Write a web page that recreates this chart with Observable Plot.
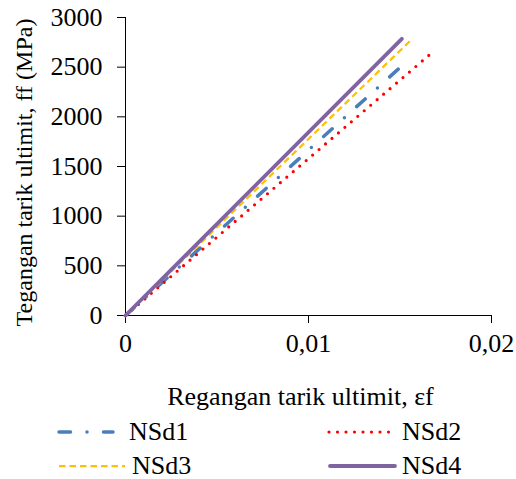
<!DOCTYPE html>
<html>
<head>
<meta charset="utf-8">
<script src="https://cdn.jsdelivr.net/npm/d3@7"></script>
<script src="https://cdn.jsdelivr.net/npm/@observablehq/plot@0.6"></script>
<style>
  html, body { margin: 0; padding: 0; background: #fff; }
  #wrap { width: 516px; font-family: "Liberation Serif", "Times New Roman", serif; }
  #legend { position: relative; width: 516px; height: 69px; font-size: 26px; color: #000; }
  .item { position: absolute; display: flex; align-items: center; height: 30px; }
  .item svg { display: block; }
</style>
</head>
<body>
<div id="wrap"></div>
<script>
// ---- data ----
const seriesNames = ["NSd1", "NSd2", "NSd3", "NSd4"];
const strainNSd1 = [0, 0.0155];
const stressNSd1 = [0, 2580];
const strainNSd2 = [0, 0.0169];
const stressNSd2 = [0, 2670];
const strainNSd3 = [0, 0.0157];
const stressNSd3 = [0, 2790];
const strainNSd4 = [0, 0.0151];
const stressNSd4 = [0, 2785];
const xTicks = [0, 0.01, 0.02];
const xTickLabels = ["0", "0,01", "0,02"];
const yTicks = [0, 500, 1000, 1500, 2000, 2500, 3000];
const yTickLabels = ["0", "500", "1000", "1500", "2000", "2500", "3000"];
const xLabel = "Regangan tarik ultimit, εf";
const yLabel = "Tegangan tarik ultimit, ff (MPa)";

// ---- styles ----
const styles = {
  NSd1: {stroke: "#4a7ebb", strokeWidth: 3.5, strokeDasharray: "11.5,16.5,0,16.5", strokeLinecap: "round"},
  NSd2: {stroke: "#ff0000", strokeWidth: 3.2, strokeDasharray: "0,8.5", strokeLinecap: "round"},
  NSd3: {stroke: "#ffc000", strokeWidth: 2.25, strokeDasharray: "6.5,4", strokeLinecap: "butt"},
  NSd4: {stroke: "#8064a2", strokeWidth: 3.8, strokeDasharray: null, strokeLinecap: "round"}
};

const seriesData = {
  NSd1: strainNSd1.map((x, i) => ({x, y: stressNSd1[i]})),
  NSd2: strainNSd2.map((x, i) => ({x, y: stressNSd2[i]})),
  NSd3: strainNSd3.map((x, i) => ({x, y: stressNSd3[i]})),
  NSd4: strainNSd4.map((x, i) => ({x, y: stressNSd4[i]}))
};

const lineMarks = seriesNames.map(name => Plot.line(seriesData[name], {
  x: "x", y: "y",
  stroke: styles[name].stroke,
  strokeWidth: styles[name].strokeWidth,
  strokeDasharray: styles[name].strokeDasharray,
  strokeLinecap: styles[name].strokeLinecap
}));

const chart = Plot.plot({
  width: 516,
  height: 410,
  marginLeft: 125,
  marginRight: 25,
  marginTop: 17,
  marginBottom: 95,
  style: {fontFamily: "'Liberation Serif', 'Times New Roman', serif", fontSize: "26px", color: "#000", background: "#fff"},
  x: {domain: [0, 0.02]},
  y: {domain: [0, 3000]},
  marks: [
    Plot.axisX({ticks: xTicks, tickFormat: d => xTickLabels[xTicks.indexOf(d)], tickSize: 8, tickPadding: 10, fontSize: 26, label: null, stroke: "#000"}),
    Plot.axisY({ticks: yTicks, tickFormat: d => yTickLabels[yTicks.indexOf(d)], tickSize: 8, tickPadding: 15, fontSize: 26, label: null, stroke: "#000"}),
    Plot.ruleY([0], {stroke: "#000", strokeWidth: 1}),
    Plot.ruleX([0], {stroke: "#000", strokeWidth: 1}),
    ...lineMarks,
    Plot.text([xLabel], {frameAnchor: "bottom", textAnchor: "middle", dy: 89, dx: -8, fontSize: 26, fill: "#000"}),
    Plot.text([yLabel], {frameAnchor: "left", textAnchor: "middle", rotate: -90, dx: -101, dy: 6, fontSize: 24, fill: "#000"})
  ]
});

const wrap = document.getElementById("wrap");
wrap.appendChild(chart);

// ---- legend (below the SVG) ----
const legend = document.createElement("div");
legend.id = "legend";
wrap.appendChild(legend);
const legendPos = {
  NSd1: {left: 57, top: 7, w: 58, gap: 14},
  NSd2: {left: 327, top: 7, w: 70, gap: 5},
  NSd3: {left: 57, top: 41, w: 70, gap: 5},
  NSd4: {left: 328, top: 41, w: 69, gap: 5}
};
seriesNames.forEach(name => {
  const p = legendPos[name], s = styles[name];
  const item = document.createElement("div");
  item.className = "item";
  item.style.left = p.left + "px";
  item.style.top = p.top + "px";
  const svg = d3.create("svg").attr("width", p.w).attr("height", 10);
  svg.append("line")
    .attr("x1", 2).attr("x2", p.w - 2).attr("y1", 5).attr("y2", 5)
    .attr("stroke", s.stroke).attr("stroke-width", s.strokeWidth)
    .attr("stroke-dasharray", s.strokeDasharray)
    .attr("stroke-linecap", s.strokeLinecap);
  item.appendChild(svg.node());
  const label = document.createElement("span");
  label.textContent = name;
  label.style.marginLeft = p.gap + "px";
  item.appendChild(label);
  legend.appendChild(item);
});
</script>
</body>
</html>
